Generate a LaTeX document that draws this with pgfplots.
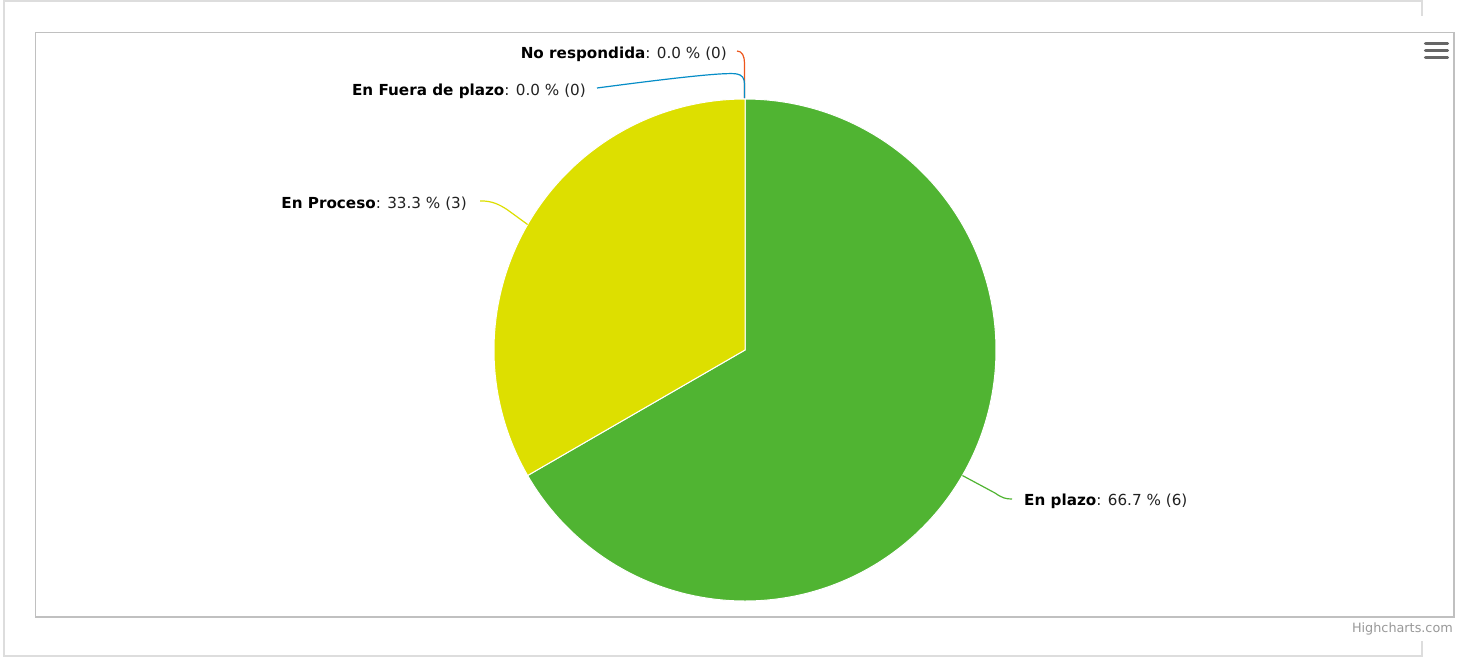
\documentclass[border=0pt]{standalone}
\usepackage{pgfplots}
\usepackage{pgfplotstable}
\pgfplotsset{compat=1.18}
\usepackage{fontspec}
\setmainfont{DejaVu Sans}
\definecolor{cgreen}{HTML}{50B432}
\definecolor{cyellow}{HTML}{DDDF00}
\definecolor{cblue}{HTML}{058DC7}
\definecolor{corange}{HTML}{ED561B}
\definecolor{outerframe}{HTML}{DDDDDD}
\definecolor{innerframe}{HTML}{C0C0C0}
\definecolor{menugray}{HTML}{666666}
\definecolor{creditgray}{HTML}{999999}
\definecolor{valtext}{HTML}{222222}

\pgfplotstableread[col sep=comma]{
label,value
En plazo,6
En Proceso,3
En Fuera de plazo,0
No respondida,0
}\piedata

\begin{document}
\begin{tikzpicture}
\pgfplotstablegetelem{0}{value}\of\piedata \pgfmathsetmacro\va{\pgfplotsretval}
\pgfplotstablegetelem{1}{value}\of\piedata \pgfmathsetmacro\vb{\pgfplotsretval}
\pgfplotstablegetelem{2}{value}\of\piedata \pgfmathsetmacro\vc{\pgfplotsretval}
\pgfplotstablegetelem{3}{value}\of\piedata \pgfmathsetmacro\vd{\pgfplotsretval}
\pgfmathsetmacro\total{\va+\vb+\vc+\vd}
\pgfmathsetmacro\aone{90-360*\va/\total}
\pgfmathsetmacro\atwo{\aone-360*\vb/\total}
\begin{axis}[
  hide axis, scale only axis,
  width=1463bp, height=657bp,
  xmin=0, xmax=1463, ymin=0, ymax=657,
  y dir=reverse, clip=false,
]
% outer frame
\draw[outerframe, line width=1.2bp] (axis cs:4,1) rectangle (axis cs:1422,656);
\fill[white] (axis cs:12,16) rectangle (axis cs:1463,641);
% inner frame
\draw[innerframe, line width=1.5bp] (axis cs:35.5,32.5) rectangle (axis cs:1454,617);
% pie slices
\addplot[fill=cgreen, draw=white, line width=1bp, domain=\aone:90, samples=181, variable=\t]
  ({745+251*cos(t)}, {350-251*sin(t)}) -- (axis cs:745,350) -- cycle;
\addplot[fill=cyellow, draw=white, line width=1bp, domain=\atwo:\aone, samples=121, variable=\t]
  ({745+251*cos(t)}, {350-251*sin(t)}) -- (axis cs:745,350) -- cycle;
% connectors
\draw[corange, line width=1.2bp] (axis cs:737,51) .. controls (axis cs:742,51) and (axis cs:744.5,56) .. (axis cs:744.5,63) -- (axis cs:744.5,98);
\draw[cblue, line width=1.2bp] (axis cs:597,88) .. controls (axis cs:680,77) and (axis cs:728,72) .. (axis cs:737,74) .. controls (axis cs:742,75) and (axis cs:744.5,78) .. (axis cs:744.5,84) -- (axis cs:744.5,98);
\draw[cyellow, line width=1.2bp] (axis cs:480,201) .. controls (axis cs:492,200.5) and (axis cs:500,205) .. (axis cs:507,209.5) -- (axis cs:527.6,224.5);
\draw[cgreen, line width=1.2bp] (axis cs:962.4,475.5) -- (axis cs:995,493) .. controls (axis cs:1002,498) and (axis cs:1006,499) .. (axis cs:1012,499);
% labels
\node[anchor=base west, inner sep=0pt, font=\fontsize{15.2bp}{18bp}\selectfont] at (axis cs:1024,505.5) {\textbf{En plazo}\textcolor{valtext}{: 66.7 \% (6)}};
\node[anchor=base east, inner sep=0pt, font=\fontsize{15.2bp}{18bp}\selectfont] at (axis cs:467,208) {\textbf{En Proceso}\textcolor{valtext}{: 33.3 \% (3)}};
\node[anchor=base east, inner sep=0pt, font=\fontsize{15.2bp}{18bp}\selectfont] at (axis cs:586,95) {\textbf{En Fuera de plazo}\textcolor{valtext}{: 0.0 \% (0)}};
\node[anchor=base east, inner sep=0pt, font=\fontsize{15.2bp}{18bp}\selectfont] at (axis cs:727,59) {\textbf{No respondida}\textcolor{valtext}{: 0.0 \% (0)}};
% menu icon
\draw[menugray, line width=3.2bp, line cap=round] (axis cs:1425.5,43.5) -- (axis cs:1447.5,43.5);
\draw[menugray, line width=3.2bp, line cap=round] (axis cs:1425.5,50.5) -- (axis cs:1447.5,50.5);
\draw[menugray, line width=3.2bp, line cap=round] (axis cs:1425.5,57.5) -- (axis cs:1447.5,57.5);
% credits
\node[anchor=base east, inner sep=0pt, text=creditgray, font=\fontsize{12.8bp}{15bp}\selectfont] at (axis cs:1453,632) {Highcharts.com};
\end{axis}
\path (current axis.south west) rectangle (current axis.north east);
\end{tikzpicture}
\end{document}
